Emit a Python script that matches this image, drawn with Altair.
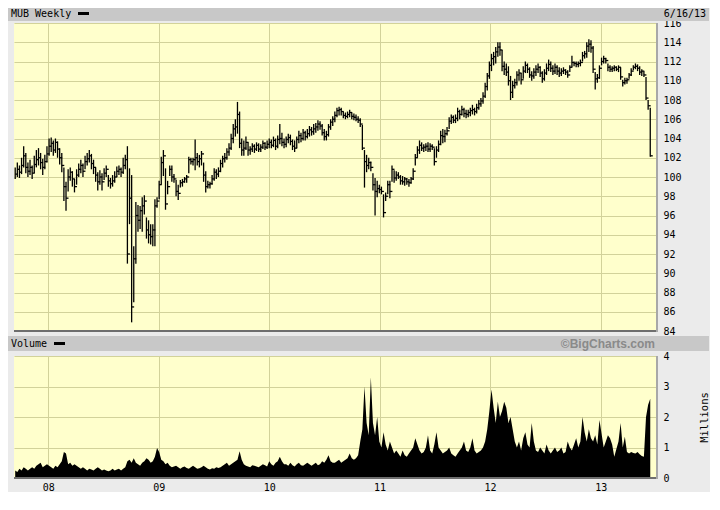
import altair as alt
import pandas as pd

# ---------------- data ----------------
first_week = "2007-09-14"
highs = [
    101.0, 101.5, 101.2, 102.0, 103.2, 102.5, 101.5, 101.8, 101.2, 102.2,
    102.8, 103.0, 102.5, 101.9, 102.3, 103.2, 104.0, 104.1, 103.8, 104.0,
    103.7, 103.0, 102.5, 101.0, 99.5, 100.8, 101.0, 100.6, 99.8, 100.8,
    101.4, 101.8, 101.4, 102.2, 102.5, 102.8, 102.4, 101.8, 101.0, 100.5,
    100.7, 100.4, 100.9, 101.2, 100.2, 99.9, 100.2, 100.6, 101.1, 101.2,
    101.0, 102.0, 102.3, 103.2, 100.9, 100.2, 92.8, 97.4, 97.1, 97.0,
    97.9, 98.1, 95.8, 95.5, 95.1, 95.1, 97.7, 97.9, 99.6, 102.1,
    102.8, 100.9, 99.6, 101.2, 101.2, 100.3, 99.7, 99.2, 99.7, 99.8,
    100.0, 100.2, 102.1, 102.0, 102.0, 103.9, 102.5, 102.3, 102.7, 101.5,
    100.6, 99.6, 99.5, 100.2, 100.9, 100.8, 101.0, 101.8, 102.2, 102.5,
    103.0, 103.5, 104.5, 105.5, 106.0, 107.8, 106.8, 104.0, 103.8, 104.2,
    103.6, 103.2, 103.5, 103.4, 103.6, 103.5, 103.4, 103.8, 103.6, 103.8,
    104.0, 103.9, 104.2, 104.0, 104.3, 105.5, 104.6, 104.0, 104.2, 104.5,
    104.4, 103.9, 103.8, 104.2, 104.8, 104.6, 105.0, 104.8, 105.0, 105.3,
    105.2, 105.5, 105.6, 105.9, 105.8, 105.5, 105.0, 104.8, 105.5, 106.0,
    106.3, 106.8, 107.2, 107.3, 107.2, 106.8, 106.7, 106.8, 107.0, 106.7,
    106.6, 106.5, 106.3, 106.1, 105.4, 102.8, 102.3, 102.0, 101.6, 100.4,
    99.9, 99.6, 99.2, 99.0, 98.2, 98.4, 99.6, 99.6, 101.2, 100.7,
    100.6, 100.5, 100.2, 100.1, 100.0, 99.9, 99.8, 100.0, 100.9, 102.4,
    103.2, 103.8, 103.6, 103.4, 103.5, 103.6, 103.5, 103.4, 103.0, 103.2,
    103.8, 104.8, 105.0, 104.9, 105.2, 106.2, 106.5, 106.4, 106.5, 107.2,
    107.0, 107.4, 107.2, 107.0, 107.0, 107.2, 107.5, 107.2, 107.6, 108.0,
    108.2, 108.8, 109.8, 110.8, 112.0, 112.8, 113.0, 113.5, 114.0, 114.0,
    113.2, 112.0, 111.8, 111.5, 110.5, 110.0, 110.2, 111.0, 111.2, 110.8,
    111.5, 112.0, 111.8, 111.4, 111.0, 111.3, 111.6, 111.8, 111.5, 111.0,
    111.2, 111.8, 112.2, 112.0, 111.6, 111.8, 111.6, 111.4, 111.3, 111.4,
    111.2, 111.1, 111.6, 112.6, 112.0, 112.0, 112.0, 112.2, 113.0, 113.1,
    114.0, 114.3, 114.2, 113.6, 110.9, 110.7, 111.6, 112.4, 112.6, 112.4,
    111.8, 111.6, 111.5, 111.6, 111.5, 111.6, 111.4, 110.1, 110.3, 110.3,
    110.8, 111.3, 111.6, 111.8, 111.7, 111.5, 111.2, 111.0, 110.4, 108.0,
    107.2,
]
lows = [
    99.8, 100.0, 99.9, 100.3, 101.0, 100.4, 100.0, 100.2, 99.8, 100.4,
    101.0, 101.2, 100.8, 100.2, 100.8, 101.5, 102.2, 102.6, 102.2, 102.5,
    102.0, 101.3, 100.5, 97.5, 96.5, 98.5, 99.6, 99.0, 98.4, 99.2,
    100.0, 100.4, 100.0, 100.8, 101.2, 101.5, 100.8, 100.3, 99.5, 98.6,
    99.2, 98.6, 99.7, 100.0, 99.0, 98.8, 99.0, 99.4, 100.0, 100.2,
    100.0, 100.3, 100.8, 91.0, 95.1, 84.9, 87.0, 91.0, 94.3, 94.6,
    94.3, 96.1, 93.6, 93.1, 93.0, 92.8, 92.8, 96.8, 97.7, 99.2,
    100.1, 96.6, 98.2, 100.1, 99.5, 99.4, 98.0, 97.6, 98.9, 99.0,
    99.4, 99.4, 100.4, 101.3, 101.2, 100.7, 101.2, 101.0, 101.2, 99.5,
    98.4, 98.8, 98.8, 99.2, 99.6, 99.8, 100.0, 100.5, 101.0, 101.5,
    101.8, 102.2, 102.8, 103.5, 104.2, 104.5, 103.0, 102.2, 102.2, 102.8,
    102.2, 102.3, 102.6, 102.5, 102.7, 102.6, 102.6, 102.9, 102.8, 102.9,
    103.0, 103.0, 103.1, 102.8, 103.0, 103.4, 103.2, 103.0, 103.1, 103.5,
    103.3, 102.8, 102.6, 103.0, 103.5, 103.6, 103.8, 103.8, 104.0, 104.2,
    104.3, 104.4, 104.6, 104.8, 104.9, 104.3, 103.8, 103.8, 104.2, 104.9,
    105.3, 105.7, 106.2, 106.4, 106.4, 106.1, 106.0, 106.1, 106.2, 106.0,
    105.9, 105.8, 105.6, 105.2, 102.8, 98.9, 100.5, 100.8, 100.6, 98.6,
    96.0, 97.9, 98.3, 98.2, 95.8, 97.5, 98.2, 97.8, 99.5, 99.4,
    99.6, 99.8, 99.2, 99.2, 99.1, 99.2, 99.0, 99.3, 99.7, 101.2,
    102.0, 102.4, 102.7, 102.6, 102.7, 102.6, 102.6, 102.8, 101.2, 102.0,
    102.6, 103.3, 103.5, 103.6, 104.3, 105.0, 105.5, 105.6, 105.6, 105.8,
    106.0, 106.4, 106.2, 106.1, 106.2, 106.3, 106.5, 106.4, 106.6, 107.0,
    107.3, 107.6, 108.2, 109.0, 110.2, 111.0, 111.6, 111.8, 112.5, 112.6,
    111.0, 110.6, 110.5, 109.5, 108.0, 108.2, 109.2, 109.5, 110.0, 109.6,
    110.2, 110.8, 110.8, 110.3, 110.0, 110.2, 110.5, 110.8, 110.4, 109.8,
    110.0, 110.6, 111.0, 110.9, 110.6, 110.7, 110.6, 110.4, 110.5, 110.7,
    110.6, 110.3, 110.9, 111.4, 111.5, 111.4, 111.4, 111.5, 112.0, 112.3,
    112.4, 113.0, 112.9, 110.8, 109.1, 109.8, 110.2, 111.6, 111.8, 111.8,
    111.0, 110.9, 110.9, 111.0, 111.0, 110.9, 110.1, 109.4, 109.6, 109.7,
    110.2, 110.5, 111.1, 111.2, 111.0, 110.6, 110.5, 110.4, 108.0, 107.0,
    102.1,
]
closes = [
    100.3, 100.8, 100.5, 101.2, 102.2, 101.0, 100.6, 101.0, 100.4, 101.3,
    101.8, 102.0, 101.5, 101.0, 101.6, 102.4, 103.2, 103.5, 102.8, 103.6,
    102.9, 102.0, 101.2, 99.0, 97.8, 100.0, 100.5, 99.8, 99.0, 100.2,
    100.8, 101.2, 100.6, 101.6, 101.9, 102.2, 101.4, 101.0, 100.2, 99.5,
    100.0, 99.5, 100.4, 100.8, 99.6, 99.3, 99.6, 100.0, 100.6, 100.8,
    100.5, 101.2, 101.8, 92.0, 97.8, 86.5, 91.5, 96.0, 95.5, 96.5,
    97.0, 97.5, 94.5, 94.0, 93.8, 94.5, 97.0, 97.5, 99.2, 101.5,
    102.2, 97.2, 99.0, 100.8, 100.0, 99.8, 98.5, 98.3, 99.4, 99.5,
    99.8, 100.0, 101.8, 101.6, 101.8, 102.0, 101.6, 101.9, 102.4, 100.2,
    99.0, 99.2, 99.3, 99.8, 100.5, 100.3, 100.6, 101.4, 101.9, 102.0,
    102.6, 103.0, 104.0, 105.0, 105.2, 106.5, 103.5, 102.8, 103.0, 103.6,
    102.8, 102.9, 103.2, 102.9, 103.3, 102.9, 103.1, 103.5, 103.1, 103.4,
    103.6, 103.3, 103.8, 103.2, 103.9, 104.0, 103.6, 103.4, 103.9, 104.1,
    103.7, 103.2, 103.0, 103.9, 104.3, 104.0, 104.6, 104.2, 104.5, 104.9,
    104.7, 105.0, 105.2, 105.5, 105.3, 104.6, 104.2, 104.4, 105.2, 105.7,
    106.0, 106.4, 106.9, 107.0, 106.8, 106.4, 106.3, 106.5, 106.7, 106.3,
    106.2, 106.0, 105.9, 105.5, 103.0, 101.6, 101.2, 101.5, 101.0, 99.2,
    98.5, 98.8, 98.7, 98.5, 96.3, 98.0, 99.2, 98.5, 100.8, 99.9,
    100.2, 100.0, 99.6, 99.5, 99.8, 99.5, 99.4, 99.8, 100.6, 102.0,
    102.8, 103.3, 103.0, 103.1, 103.2, 102.9, 103.2, 103.1, 101.6, 102.8,
    103.4, 104.3, 104.2, 104.5, 104.8, 105.8, 106.2, 105.9, 106.1, 106.8,
    106.5, 107.0, 106.6, 106.5, 106.7, 106.9, 107.0, 106.8, 107.2, 107.6,
    107.9, 108.4, 109.4, 110.5, 111.6, 112.3, 112.5, 113.0, 113.5, 113.2,
    111.5, 111.2, 110.9, 110.0, 108.8, 109.5, 109.8, 110.6, 110.8, 110.1,
    111.0, 111.6, 111.2, 110.6, 110.5, 110.9, 111.2, 111.4, 110.8, 110.2,
    110.8, 111.3, 111.7, 111.3, 111.0, 111.4, 111.0, 110.8, 111.0, 111.1,
    110.9, 110.6, 111.4, 111.9, 111.8, 111.7, 111.8, 111.9, 112.6, 112.8,
    113.6, 113.8, 113.4, 111.2, 110.2, 110.3, 111.3, 112.0, 112.3, 112.1,
    111.4, 111.2, 111.3, 111.4, 111.2, 111.4, 110.4, 109.8, 110.0, 110.1,
    110.6, 111.0, 111.4, 111.5, 111.3, 110.9, 111.0, 110.6, 108.2, 107.4,
    102.2,
]
volumes = [  # millions of shares per week
    0.25, 0.2, 0.3, 0.25, 0.35, 0.3, 0.25, 0.3, 0.35, 0.3,
    0.4, 0.45, 0.5, 0.35, 0.4, 0.45, 0.4, 0.35, 0.3, 0.4,
    0.35, 0.45, 0.55, 0.85, 0.8, 0.45, 0.5, 0.4, 0.45, 0.4,
    0.35, 0.3, 0.35, 0.3, 0.25, 0.3, 0.28, 0.25, 0.3, 0.35,
    0.3, 0.25, 0.28, 0.25, 0.22, 0.25, 0.3, 0.25, 0.28, 0.3,
    0.25, 0.3, 0.35, 0.55, 0.6, 0.5, 0.65, 0.5, 0.45, 0.4,
    0.5, 0.55, 0.65, 0.6, 0.5, 0.55, 0.7, 0.98, 0.85, 0.6,
    0.55, 0.45, 0.5, 0.4, 0.35, 0.38, 0.4, 0.35, 0.3, 0.35,
    0.38, 0.33, 0.3, 0.35, 0.4, 0.35, 0.3, 0.32, 0.35, 0.4,
    0.35, 0.3, 0.28, 0.32, 0.3, 0.35, 0.33, 0.35, 0.4, 0.45,
    0.5, 0.4, 0.45, 0.5, 0.55, 0.6, 0.88, 0.6, 0.45, 0.4,
    0.38, 0.35, 0.42, 0.4, 0.38, 0.35, 0.4, 0.45, 0.42, 0.38,
    0.55, 0.45, 0.4, 0.5, 0.55, 0.7, 0.55, 0.45, 0.45, 0.4,
    0.5, 0.42, 0.38, 0.45, 0.5, 0.42, 0.4, 0.45, 0.5, 0.45,
    0.4, 0.45, 0.5, 0.42, 0.45, 0.55, 0.5, 0.6, 0.75, 0.55,
    0.5, 0.5, 0.55, 0.6, 0.5, 0.55, 0.6, 0.65, 0.8, 0.65,
    0.6, 0.65, 0.75, 1.2, 1.6, 3.0, 1.8, 1.4, 3.3, 1.8,
    1.4, 2.0, 1.2, 1.0, 1.5, 1.1, 0.9, 1.2, 1.0, 0.8,
    0.9, 0.8, 0.7, 0.9, 0.75, 0.7, 0.8, 0.9, 1.0, 1.3,
    1.1, 0.9, 0.8, 0.85, 1.0, 1.4, 0.9, 0.8, 1.1, 1.5,
    1.0, 0.9, 0.8, 0.85, 0.9, 1.0, 0.8, 0.75, 0.7, 0.8,
    0.9, 1.0, 1.2, 0.9, 0.85, 1.0, 1.3, 0.9, 0.8, 0.85,
    0.9, 1.0, 1.2, 1.6, 2.2, 2.9, 2.3, 1.8, 2.5, 2.0,
    2.2, 2.5, 2.3, 1.8, 2.0, 1.6, 1.2, 1.0, 1.2, 0.9,
    1.3, 1.5, 1.1, 1.0, 1.8, 1.2, 0.9, 0.85, 1.0, 0.9,
    0.8, 1.1, 0.9, 0.8, 0.9, 1.0, 0.85, 0.9, 1.0, 0.8,
    0.85, 1.2, 1.0, 0.9, 1.1, 1.3, 1.0, 1.2, 2.0, 1.5,
    1.2, 1.6, 1.3, 1.2, 1.4, 1.1, 1.9, 1.45, 1.0, 1.2,
    1.4, 1.3, 1.1, 0.7, 0.95, 1.2, 1.8, 1.0, 1.35, 0.85,
    0.8, 0.85, 0.82, 0.8, 0.85, 0.78, 0.72, 0.7, 2.0, 2.4,
    2.6,
]
price_ticks = list(range(84, 117, 2))
volume_ticks = [0, 1, 2, 3, 4]
years = [2008, 2009, 2010, 2011, 2012, 2013]
symbol_title = "MUB Weekly"
date_stamp = "6/16/13"
volume_title = "Volume"
credit = "\u00a9BigCharts.com"
volume_axis_title = "Millions"

# ---------------- frames ----------------
price_df = pd.DataFrame({
    "date": pd.date_range(first_week, periods=len(closes), freq="7D"),
    "high": highs, "low": lows, "close": closes,
})
vol_df = pd.DataFrame({
    "date": pd.date_range(first_week, periods=len(volumes), freq="7D"),
    "volume": volumes,
})

# ---------------- styling ----------------
MONO = "DejaVu Sans Mono"
W, HP, HV = 642, 308, 122
GRID = "#D2D29A"
HEADER = "#C8C8C8"
BG = "#EBEBEB"

x_scale = alt.Scale(
    domain=[alt.DateTime(year=2007, month=9, date=10),
            alt.DateTime(year=2013, month=7, date=3)],
    nice=False,
)
year_values = [alt.DateTime(year=y, month=1, date=1) for y in years]
one = alt.Data(values=[{"k": 1}])


def rect(x1, x2, y1, y2, color):
    return alt.Chart(one).mark_rect(color=color).encode(
        x=alt.value(x1), x2=alt.value(x2), y=alt.value(y1), y2=alt.value(y2))


def label(txt, x, y, align="left", color="black", font=MONO, size=10, weight="normal"):
    return alt.Chart(one).mark_text(
        text=txt, align=align, baseline="middle", font=font, fontSize=size,
        fontWeight=weight, color=color).encode(x=alt.value(x), y=alt.value(y))


def rule(x1, x2, y1, y2, color, width):
    return alt.Chart(one).mark_rule(color=color, strokeWidth=width).encode(
        x=alt.value(x1), x2=alt.value(x2), y=alt.value(y1), y2=alt.value(y2))


# ---------------- price panel ----------------
x_axis_price = alt.Axis(values=year_values, labels=False, ticks=False, tickCount=40,
                        domain=False, grid=True, gridColor=GRID, title=None)
y_axis_price = alt.Axis(orient="right", values=price_ticks, tickCount=40, format="d",
                        ticks=False, domain=False, grid=True, gridColor=GRID,
                        labelPadding=7, title=None, labelOverlap=False, labelFont=MONO,
                        labelFontSize=10, labelColor="black")
y_price_scale = alt.Scale(domain=[84, 116], nice=False, zero=False)

hl = alt.Chart(price_df).mark_rule(color="black", strokeWidth=1.3).encode(
    x=alt.X("date:T", scale=x_scale, axis=x_axis_price),
    y=alt.Y("low:Q", scale=y_price_scale, axis=y_axis_price),
    y2="high:Q",
)
cl = alt.Chart(price_df).mark_rule(color="black", strokeWidth=1.3, x2Offset=2.5).encode(
    x=alt.X("date:T", scale=x_scale, axis=x_axis_price),
    x2="date:T",
    y=alt.Y("close:Q", scale=y_price_scale, axis=y_axis_price),
)

price = alt.layer(
    rect(-6, 695, -15, -2, HEADER),
    label(symbol_title, -3, -9.5),
    rect(64, 75, -11, -8, "black"),
    label(date_stamp, 692, -9.5, align="right"),
    hl, cl,
    rule(0, W, HP, HP, "#6E6E6E", 2),
    rule(W + 1, W + 1, 0, HP + 1, "#A8A8A8", 2),
).properties(width=W, height=HP)

# ---------------- volume panel ----------------
area = alt.Chart(vol_df).mark_area(color="black", interpolate="linear").encode(
    x=alt.X("date:T", scale=x_scale,
            axis=alt.Axis(values=year_values, format="%y", ticks=False, domain=False,
                          tickCount=40, grid=True, gridColor=GRID, title=None,
                          labelPadding=4, labelFlush=False, labelOverlap=False,
                          labelFont=MONO, labelFontSize=10, labelColor="black")),
    y=alt.Y("volume:Q", scale=alt.Scale(domain=[0, 4], nice=False),
            axis=alt.Axis(orient="right", values=volume_ticks, tickCount=40, format="d",
                          ticks=False, domain=False, grid=True, gridColor=GRID,
                          labelPadding=7, labelOverlap=False, labelFont=MONO,
                          labelFontSize=10, labelColor="black", title=volume_axis_title,
                          titleFont=MONO, titleFontSize=10.5, titleFontWeight="normal",
                          titleColor="black", titleAngle=270, titleX=48,
                          titleY=HV / 2, titleAlign="center", titleBaseline="middle")),
)

volume = alt.layer(
    rect(-6, 695, -20, -5, HEADER),
    label(volume_title, -3, -12.5),
    rect(40, 51, -14, -11, "black"),
    label(credit, 641, -12.5, align="right", color="#8A8A8A",
          font="Liberation Sans", size=12, weight="bold"),
    area,
    rule(0, W, HV, HV, "#6E6E6E", 2),
    rule(W + 1, W + 1, 0, HV + 1, "#A8A8A8", 2),
).properties(width=W, height=HV)

chart = alt.vconcat(price, volume, spacing=25, bounds="flush").properties(
    background=BG, padding=0
).configure_view(fill="#FFFFCC", stroke=None)

chart.save("out.html", embed_options={"renderer": "svg", "actions": False})
